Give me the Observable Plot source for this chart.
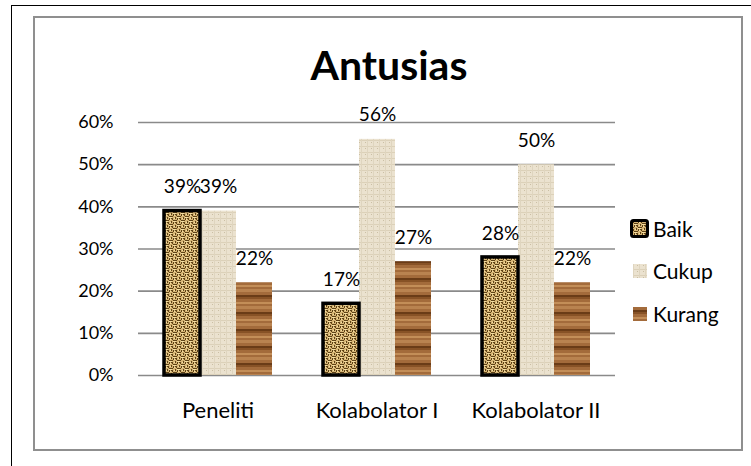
<!DOCTYPE html>
<html>
<head>
<meta charset="utf-8">
<script src="https://cdn.jsdelivr.net/npm/d3@7"></script>
<script src="https://cdn.jsdelivr.net/npm/@observablehq/plot@0.6"></script>
<style>
  html, body { margin: 0; padding: 0; background: white; }
  #wrap { position: relative; width: 751px; height: 466px; overflow: hidden; font-family: Lato, "Open Sans", sans-serif; }
  .outer { position: absolute; left: 11px; top: 5px; width: 760px; height: 480px; border-top: 1.5px solid #000; border-left: 1.5px solid #000; }
  .box { position: absolute; left: 33px; top: 16px; width: 706px; height: 431px; border: 2px solid #8f8f8f; }
  .title { position: absolute; left: 0; width: 778px; top: 40px; text-align: center; font-size: 41px; font-weight: bold; color: #000; }
  .legend { position: absolute; left: 630px; font-size: 21px; color: #000; display: flex; align-items: center; }
  .legend svg { margin-right: 4px; }
  #plot { position: absolute; left: 0; top: 0; }
</style>
</head>
<body>
<div id="wrap">
  <div class="outer"></div>
  <div class="box"></div>
  <div class="title">Antusias</div>
  <div id="plot"></div>
</div>
<script>
const categories = ["Peneliti", "Kolabolator I", "Kolabolator II"];
const series = ["Baik", "Cukup", "Kurang"];
const baik = [0.39, 0.17, 0.28];
const cukup = [0.39, 0.56, 0.50];
const kurang = [0.22, 0.27, 0.22];
const yTicks = [0, 0.1, 0.2, 0.3, 0.4, 0.5, 0.6];

const values = {Baik: baik, Cukup: cukup, Kurang: kurang};
const data = [];
categories.forEach((c, i) => series.forEach(s => data.push({group: c, series: s, value: values[s][i]})));

const fills = {Baik: "url(#patBaik)", Cukup: "url(#patCukup)", Kurang: "url(#patKurang)"};
const fmt = d3.format(".0%");

const chart = Plot.plot({
  width: 751,
  height: 466,
  marginLeft: 137,
  marginRight: 135,
  marginTop: 122,
  marginBottom: 91,
  style: {background: "transparent", overflow: "visible", fontFamily: "Lato, 'Open Sans', sans-serif", fontSize: "19px", color: "#000"},
  fx: {domain: categories, padding: 0, label: null},
  x: {domain: series, paddingInner: 0, paddingOuter: 0.7, axis: null},
  y: {domain: [0, 0.6], axis: null},
  marks: [
    Plot.ruleY(yTicks, {stroke: "#8a8a8a", strokeWidth: 1.6, strokeOpacity: 1}),
    Plot.ruleX([0], {frameAnchor: "left", stroke: "#8a8a8a", strokeWidth: 1.6}),
    Plot.axisY({ticks: yTicks, tickFormat: fmt, tickSize: 0, tickPadding: 25, label: null, fontSize: 18, anchor: "left"}),
    Plot.axisFx({anchor: "bottom", tickSize: 0, tickPadding: 27, label: null, fontSize: 22}),
    Plot.barY(data.filter(d => d.series !== "Baik"), {
      fx: "group", x: "series", y: "value",
      fill: d => fills[d.series],
      style: "filter: drop-shadow(2px 2px 2px rgba(0,0,0,0.35))"
    }),
    Plot.barY(data.filter(d => d.series === "Baik"), {
      fx: "group", x: "series", y: "value",
      fill: d => fills[d.series], stroke: "#000", strokeWidth: 3.5
    }),
    Plot.text(data, {fx: "group", x: "series", y: "value", text: d => fmt(d.value), dy: -24, fontSize: 19, fill: "#000"})
  ]
});

// patterns
const svg = d3.select(chart);
const defs = svg.insert("defs", ":first-child");

// Baik: golden basket weave
const pb = defs.append("pattern").attr("id", "patBaik").attr("patternUnits", "userSpaceOnUse").attr("width", 8).attr("height", 8);
pb.append("rect").attr("width", 8).attr("height", 8).attr("fill", "#d6b575");
[[0,0,4,1],[4,4,4,1],[0,2,1,2],[4,6,1,2],[2,2,2,1],[6,6,2,1],[3,3,1,1],[7,7,1,1],[2,5,1,2],[6,1,1,2]].forEach(([x,y,w,h]) =>
  pb.append("rect").attr("x", x).attr("y", y).attr("width", w).attr("height", h).attr("fill", "#5e4216"));
[[0,1,3,1],[4,5,3,1],[1,3,1,1],[5,7,1,1],[1,6,1,1],[5,2,1,1]].forEach(([x,y,w,h]) =>
  pb.append("rect").attr("x", x).attr("y", y).attr("width", w).attr("height", h).attr("fill", "#f4dfa4"));

// Cukup: light linen
const pc = defs.append("pattern").attr("id", "patCukup").attr("patternUnits", "userSpaceOnUse").attr("width", 6).attr("height", 6);
pc.append("rect").attr("width", 6).attr("height", 6).attr("fill", "#ebe2cf");
pc.append("rect").attr("x", 0).attr("y", 2).attr("width", 6).attr("height", 1).attr("fill", "#dcd1b9");
pc.append("rect").attr("x", 3).attr("y", 0).attr("width", 1).attr("height", 6).attr("fill", "#dfd5bf");
pc.append("rect").attr("x", 1).attr("y", 4).attr("width", 1).attr("height", 1).attr("fill", "#cbbfa4");

// Kurang: wood stripes
const pk = defs.append("pattern").attr("id", "patKurang").attr("patternUnits", "userSpaceOnUse").attr("width", 40).attr("height", 17);
pk.append("rect").attr("width", 40).attr("height", 17).attr("fill", "#a36b3b");
pk.append("rect").attr("y", 0).attr("width", 40).attr("height", 3).attr("fill", "#b98350");
pk.append("rect").attr("y", 6).attr("width", 40).attr("height", 2).attr("fill", "#6a3c17");
pk.append("rect").attr("y", 8).attr("width", 40).attr("height", 2).attr("fill", "#875226");
pk.append("rect").attr("y", 13).attr("width", 40).attr("height", 2).attr("fill", "#c38e58");

document.getElementById("plot").appendChild(chart);

// legend
const wrap = document.getElementById("wrap");
const legendY = {Baik: 229, Cukup: 271, Kurang: 314};
series.forEach(s => {
  const div = document.createElement("div");
  div.className = "legend";
  div.style.top = (legendY[s] - 13) + "px";
  const sw = d3.create("svg").attr("width", 19).attr("height", 19);
  if (s === "Baik") {
    sw.append("rect").attr("x", 1.5).attr("y", 1.5).attr("width", 16).attr("height", 16).attr("rx", 2).attr("fill", fills[s]).attr("stroke", "#000").attr("stroke-width", 3);
  } else {
    sw.append("rect").attr("x", 3).attr("y", 3).attr("width", 14).attr("height", 14).attr("fill", fills[s]);
  }
  div.appendChild(sw.node());
  const t = document.createElement("span");
  t.textContent = s;
  div.appendChild(t);
  wrap.appendChild(div);
});
</script>
</body>
</html>
